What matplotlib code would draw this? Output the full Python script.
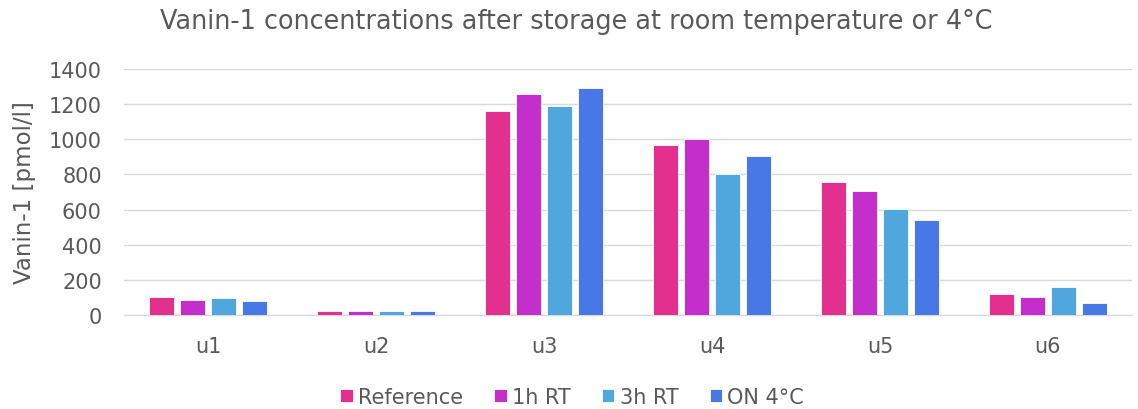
import numpy as np
import matplotlib
matplotlib.use("Agg")
import matplotlib.pyplot as plt

# ── data ──
samples = ["u1", "u2", "u3", "u4", "u5", "u6"]
series_names = ["Reference", "1h RT", "3h RT", "ON 4°C"]
reference = [105, 25, 1162, 965, 756, 122]
rt_1h = [88, 25, 1258, 999, 707, 100]
rt_3h = [95, 23, 1188, 805, 601, 158]
on_4c = [82, 24, 1292, 903, 539, 68]

colors = ["#E3308F", "#C42FCB", "#4FA7DD", "#4877E6"]
text_gray = "#595959"

plt.rcParams["font.family"] = ["DejaVu Sans"]

fig = plt.figure(figsize=(11.38, 4.10), dpi=100)
ax = fig.add_axes([124 / 1138, 1 - 316 / 410, (1132 - 124) / 1138, (316 - 70) / 410])

x = np.arange(len(samples))
pitch = 0.183
width = 0.15
all_series = [reference, rt_1h, rt_3h, on_4c]
for i, (vals, name, col) in enumerate(zip(all_series, series_names, colors)):
    ax.bar(x + (i - 1.5) * pitch, vals, width=width, color=col, label=name,
           edgecolor="white", linewidth=0.6, zorder=3)

ax.set_ylim(0, 1400)
ax.set_yticks(range(0, 1401, 200))
ax.set_xlim(-0.5, len(samples) - 0.5)
ax.set_xticks(x)
ax.set_xticklabels(samples)

ax.yaxis.grid(True, color="#D9D9D9", linewidth=1.0, zorder=0)
ax.xaxis.grid(False)
for s in ["top", "right", "left"]:
    ax.spines[s].set_visible(False)
ax.spines["bottom"].set_color("#D9D9D9")
ax.spines["bottom"].set_linewidth(1.0)
ax.tick_params(axis="both", length=0, labelsize=15, colors=text_gray)
ax.tick_params(axis="y", pad=16)
ax.tick_params(axis="x", pad=15)

ax.set_ylabel("Vanin-1 [pmol/l]", fontsize=16.5, color=text_gray, labelpad=9)
fig.text(576 / 1138, 1 - 22 / 410, "Vanin-1 concentrations after storage at room temperature or 4°C",
         ha="center", va="center", fontsize=18.4, color=text_gray)

leg = fig.legend(loc="center", bbox_to_anchor=(572 / 1138, 1 - 398 / 410), ncol=4,
                 frameon=False, fontsize=15, handlelength=0.6, handleheight=0.6,
                 handletextpad=0.25, columnspacing=1.5)
for t in leg.get_texts():
    t.set_color(text_gray)

fig.savefig("out.png", dpi=100, facecolor="white")
